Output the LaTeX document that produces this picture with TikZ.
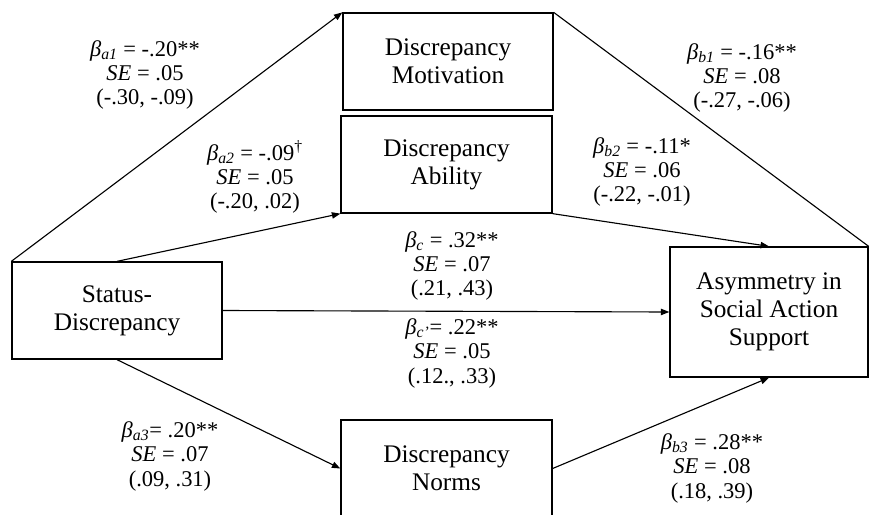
\documentclass[tikz,border=0pt]{standalone}
\usepackage{fontspec}
\setmainfont{Liberation Serif}
\usetikzlibrary{arrows.meta}

\tikzset{
    varbox/.style={draw, line width=0.9pt, align=center, inner sep=0pt, font=\fontsize{18}{20}\selectfont},
    coef/.style={align=center, inner sep=0pt, font=\fontsize{16}{17.4}\selectfont},
    pathline/.style={line width=0.8pt, -{Triangle[length=6pt,width=4.5pt]}}
}
\newcommand{\bcoef}[1]{\textit{β}\textsubscript{\textit{#1}}}

\begin{document}
\begin{tikzpicture}[x=0.025cm, y=-0.025cm]
    \useasboundingbox (0,0) rectangle (869,514);

    \node[varbox, minimum width=5.25cm, minimum height=2.425cm] (stat) at (117,310.5) {Status-\\Discrepancy};
    \node[varbox, minimum width=5.25cm, minimum height=2.425cm] (mot) at (448,61.5) {Discrepancy\\Motivation};
    \node[varbox, minimum width=5.275cm, minimum height=2.425cm] (abil) at (446.5,164.5) {Discrepancy\\Ability};
    \node[varbox, minimum width=5.275cm, minimum height=2.425cm] (norms) at (446.5,468.5) {Discrepancy\\Norms};
    \node[varbox, minimum width=4.95cm, minimum height=3.25cm] (asym) at (769,312) {Asymmetry in\\Social Action\\Support};

    \draw[pathline] (stat.north west) -- (mot.north west);
    \draw[pathline] (stat.north) -- (abil.south west);
    \draw[pathline] (stat.south) -- (norms.west);
    \draw[pathline] (stat.east) -- (asym.west);
    \draw[line width=0.8pt] (mot.north east) -- (asym.north east);
    \draw[pathline] (abil.south east) -- (asym.north);
    \draw[pathline] (norms.east) -- (asym.south);

    \node[coef] (la1) at (145,75) {\bcoef{a1} = -.20**\\\textit{SE} = .05\\(-.30, -.09)};
    \node[coef] (la2) at (255,177) {\bcoef{a2} = -.09\textsuperscript{†}\\\textit{SE} = .05\\(-.20, .02)};
    \node[coef] (la3) at (170,456) {\bcoef{a3}= .20**\\\textit{SE} = .07\\(.09, .31)};
    \node[coef] (lb1) at (742,78) {\bcoef{b1} = -.16**\\\textit{SE} = .08\\(-.27, -.06)};
    \node[coef] (lb2) at (642,172) {\bcoef{b2} = -.11*\\\textit{SE} = .06\\(-.22, -.01)};
    \node[coef] (lb3) at (712,468) {\bcoef{b3} = .28**\\\textit{SE} = .08\\(.18, .39)};
    \node[coef] (lc) at (452,266) {\bcoef{c} = .32**\\\textit{SE} = .07\\(.21, .43)};
    \node[coef] (lcp) at (452,353) {\bcoef{c'}= .22**\\\textit{SE} = .05\\(.12., .33)};
\end{tikzpicture}
\end{document}
